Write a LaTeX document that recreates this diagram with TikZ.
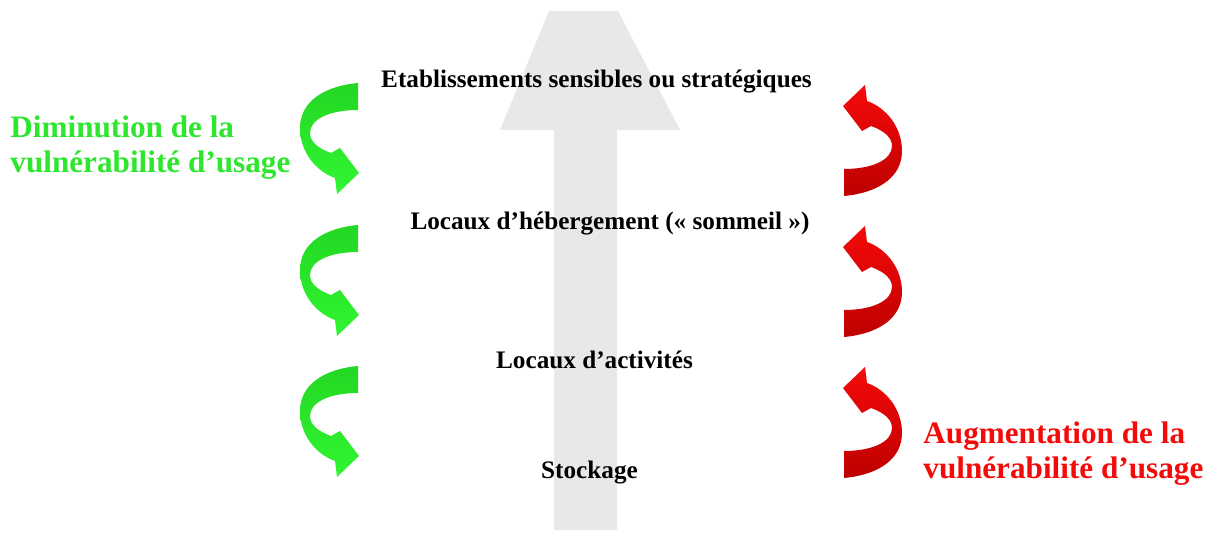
\documentclass[tikz,border=0pt]{standalone}
\usepackage{fontspec}
\setmainfont{Liberation Serif}

\definecolor{arrowgray}{RGB}{232,232,232}
\definecolor{lightgreen}{RGB}{50,245,50}
\definecolor{darkgreen}{RGB}{35,215,35}
\definecolor{textgreen}{RGB}{45,230,45}
\definecolor{brightred}{RGB}{245,10,10}
\definecolor{deepred}{RGB}{190,0,0}

\tikzset{
  level/.style={font=\bfseries\fontsize{12.6}{15}\selectfont, inner sep=0pt, anchor=base},
  sidetext/.style={font=\bfseries\fontsize{15.6}{17.5}\selectfont, inner sep=0pt, align=left, anchor=base west},
  greenarrow/.style={top color=darkgreen, bottom color=lightgreen, draw=none},
  redarrow/.style={top color=brightred, bottom color=deepred, draw=none},
  curvearrow/.pic={
    \path[pic actions] (58,0) .. controls (25,3) and (0,18) .. (0,45)
      .. controls (0,68) and (15,88) .. (35,95) -- (37,111) -- (59,90)
      -- (40,65) -- (31,70) .. controls (17,65) and (10,58) .. (10,50)
      .. controls (10,36) and (30,27) .. (58,27) -- cycle;
  }
}

\begin{document}
\begin{tikzpicture}[x=0.5pt,y=-0.5pt]
\useasboundingbox (0,0) rectangle (1215,533);
% big grey arrow
\fill [arrowgray] (554,530) -- (554,130) -- (500,130) -- (549,11) -- (618,11)
  -- (680,130) -- (617,130) -- (617,530) -- cycle;
% levels of use
\node[level] (etab) at (596.5,88) {Etablissements sensibles ou stratégiques};
\node[level] (heberg) at (610,230) {Locaux d’hébergement («~sommeil~»)};
\node[level] (activ) at (594.5,369) {Locaux d’activités};
\node[level] (stock) at (589.5,479) {Stockage};
% going down
\foreach \y in {83,225,366} {
    \pic[greenarrow] at (300,\y) {curvearrow};
}
\node[sidetext, text=textgreen] (dimin) at (10,173) {Diminution de la\\vulnérabilité d’usage};
% going up
\foreach \y in {196,337,478} {
    \pic[redarrow, rotate=180] at (902,\y) {curvearrow};
}
\node[sidetext, text=brightred] (augm) at (923,479) {Augmentation de la\\vulnérabilité d’usage};
\end{tikzpicture}
\end{document}
